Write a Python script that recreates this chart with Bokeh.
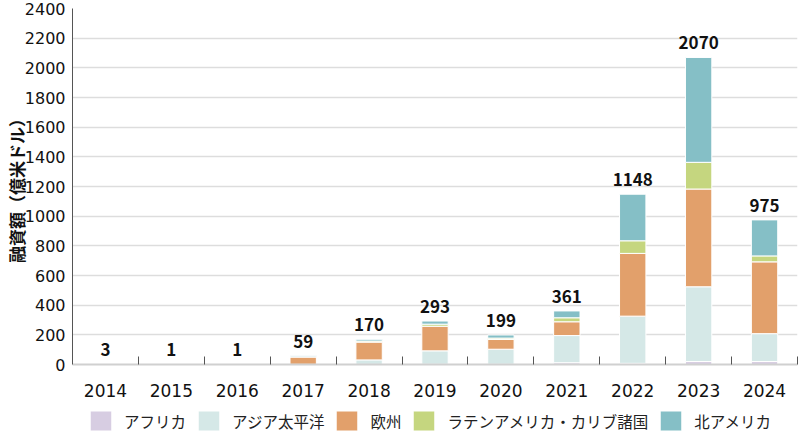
from bokeh.plotting import figure
from bokeh.layouts import column
from bokeh.models import ColumnDataSource, FixedTicker, Legend, LegendItem, Range1d
from bokeh.core.properties import value
from bokeh.embed import file_html
from bokeh.resources import INLINE

years = ["2014", "2015", "2016", "2017", "2018", "2019", "2020", "2021", "2022", "2023", "2024"]
africa = [0, 0, 0, 0, 1, 2, 2, 12, 8, 20, 20]
apac = [0, 0, 0, 1, 30, 90, 101, 183, 318, 504, 188]
europe = [3, 1, 1, 50, 120, 166, 66, 93, 423, 659, 484]
latam = [0, 0, 0, 1, 7, 14, 9, 27, 85, 180, 40]
north_america = [0, 0, 0, 7, 12, 21, 21, 46, 314, 707, 243]
totals = [3, 1, 1, 59, 170, 293, 199, 361, 1148, 2070, 975]

series_names = ["アフリカ", "アジア太平洋", "欧州", "ラテンアメリカ・カリブ諸国", "北アメリカ"]
colors = ["#d7cde2", "#d5e8e7", "#e2a06b", "#c5d67f", "#85bfc6"]
keys = ["africa", "apac", "europe", "latam", "na"]

xs = [i + 0.5 for i in range(len(years))]
src = ColumnDataSource(dict(
    x=xs, africa=africa, apac=apac, europe=europe, latam=latam, na=north_america,
    total=totals, label=[str(t) for t in totals],
))

p = figure(width=800, height=399, x_range=Range1d(0, len(years)), y_range=Range1d(0, 2400),
           output_backend="svg", toolbar_location=None,
           min_border_left=0, min_border_right=3, min_border_top=8, min_border_bottom=0)

renderers = p.vbar_stack(keys, x="x", width=0.4, fill_color=colors, line_color="white",
                         line_width=1, source=src)

p.text(x="x", y="total", text="label", source=src, text_align="center", text_baseline="bottom",
       y_offset=-8, text_font=value("Noto Sans CJK JP"), text_font_style="bold",
       text_font_size="17px", text_color="#111111")

# y axis
p.yaxis.ticker = FixedTicker(ticks=list(range(0, 2401, 200)))
p.yaxis.major_tick_out = 0
p.yaxis.major_tick_in = 0
p.yaxis.minor_tick_out = 0
p.yaxis.minor_tick_in = 0
p.yaxis.axis_line_color = "#555555"
p.yaxis.major_label_text_font = "DejaVu Sans"
p.yaxis.major_label_text_font_size = "16px"
p.yaxis.major_label_text_color = "#111111"
p.yaxis.major_label_standoff = 7
p.yaxis.axis_label = "融資額（億米ドル）"
p.yaxis.axis_label_text_font = "Noto Sans CJK JP"
p.yaxis.axis_label_text_font_style = "bold"
p.yaxis.axis_label_text_font_size = "17px"
p.yaxis.axis_label_text_color = "#111111"
p.yaxis.axis_label_standoff = -7

# x axis
p.xaxis.ticker = FixedTicker(ticks=xs, minor_ticks=list(range(1, len(years) + 1)))
p.xaxis.major_label_overrides = {x: y for x, y in zip(xs, years)}
p.xaxis.major_tick_out = 0
p.xaxis.major_tick_in = 0
p.xaxis.minor_tick_in = 8
p.xaxis.minor_tick_out = 0
p.xaxis.minor_tick_line_color = "#555555"
p.xaxis.axis_line_color = "#d0d0d0"
p.xaxis.axis_line_width = 2
p.xaxis.major_label_text_font = "DejaVu Sans"
p.xaxis.major_label_text_font_size = "17px"
p.xaxis.major_label_text_color = "#111111"
p.xaxis.major_label_standoff = 19

p.xgrid.visible = False
p.ygrid.grid_line_color = "#dddddd"
p.ygrid.grid_line_width = 1.5
p.outline_line_color = None

# legend strip (separate figure holding hidden copies of the stacked bars as legend glyphs)
lg = figure(width=800, height=35, x_range=Range1d(0, 1), y_range=Range1d(0, 1),
            output_backend="svg", toolbar_location=None,
            min_border_left=0, min_border_right=0, min_border_top=0, min_border_bottom=0)
lg.axis.visible = False
lg.grid.visible = False
lg.outline_line_color = None
leg_renderers = lg.vbar_stack(keys, x="x", width=0.4, fill_color=colors, line_color="white",
                              line_width=1, source=src)
for r in leg_renderers:
    r.visible = False

legend = Legend(items=[LegendItem(label=n, renderers=[r]) for n, r in zip(series_names, leg_renderers)],
                orientation="horizontal", location=(15, 1),
                glyph_width=27, glyph_height=25, label_standoff=10, spacing=9,
                label_text_font="Noto Sans CJK JP", label_text_font_size="15.5px",
                label_text_color="#222222", border_line_color=None,
                background_fill_alpha=0, padding=0, margin=0)
lg.add_layout(legend, "center")

open("out.html", "w").write(file_html(column(p, lg), INLINE))
